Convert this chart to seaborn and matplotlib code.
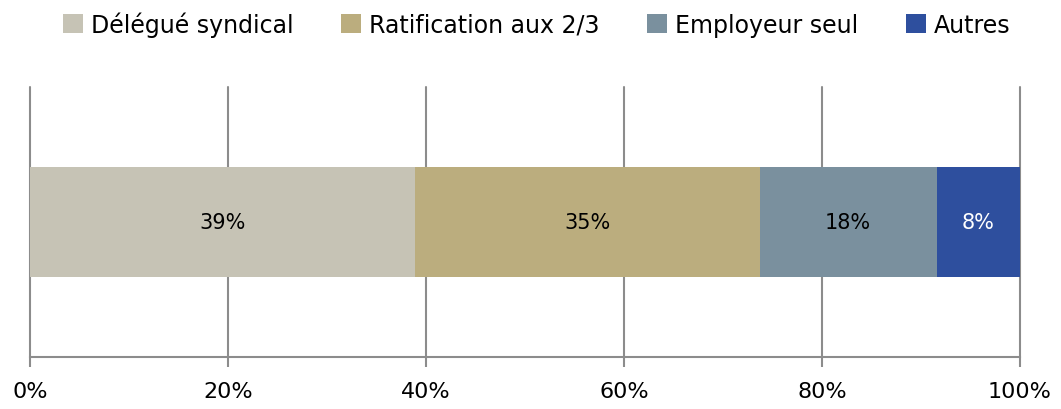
import numpy as np
import pandas as pd
import matplotlib
matplotlib.use("Agg")
import matplotlib.pyplot as plt
import seaborn as sns
from matplotlib.patches import Patch

# donnees
categories = ["Délégué syndical", "Ratification aux 2/3", "Employeur seul", "Autres"]
shares = [38.9, 34.8, 17.9, 8.4]
labels = ["39%", "35%", "18%", "8%"]
colors = ["#C6C3B5", "#BBAD7E", "#7A909E", "#2E4F9E"]
label_colors = ["black", "black", "black", "white"]
tick_values = [0, 20, 40, 60, 80, 100]

sns.set_theme(style="white")
plt.rcParams["font.family"] = ["DejaVu Sans"]

fig = plt.figure(figsize=(10.61, 4.10), dpi=100)
ax = fig.add_axes([0.0283, 0.1268, 0.9330, 0.6585])

cum = np.cumsum(shares)
starts = cum - np.array(shares)

# empilement : on dessine les cumuls du plus grand au plus petit
for i in range(len(categories) - 1, -1, -1):
    df = pd.DataFrame({"groupe": ["all"], "valeur": [cum[i]]})
    sns.barplot(data=df, x="valeur", y="groupe", orient="h", color=colors[i],
                saturation=1, width=0.404, ax=ax, zorder=3, linewidth=0)

for i, lab in enumerate(labels):
    ax.text(starts[i] + shares[i] / 2, 0, lab, ha="center", va="center",
            fontsize=15, color=label_colors[i], zorder=4)

ax.set_xlim(0, 100)
ax.set_ylim(0.5, -0.5)
ax.set_xticks(tick_values)
ax.set_xticklabels([f"{v}%" for v in tick_values], fontsize=16)
ax.set_yticks([])
ax.set_xlabel("")
ax.set_ylabel("")

ax.grid(axis="x", color="#8C8C8C", linewidth=1.5, zorder=0)
for gl in ax.get_xgridlines():
    gl.set_clip_on(False)
ax.set_axisbelow(True)
for side in ["top", "right", "left"]:
    ax.spines[side].set_visible(False)
ax.spines["bottom"].set_color("#8C8C8C")
ax.spines["bottom"].set_linewidth(1.5)
ax.tick_params(axis="x", bottom=True, length=7, width=1.5, color="#8C8C8C",
               pad=10, labelcolor="black")

handles = [Patch(facecolor=c, edgecolor="none") for c in colors]
fig.legend(handles, categories, loc="upper center", bbox_to_anchor=(0.506, 1.01),
           ncol=4, frameon=False, fontsize=17, handlelength=0.85, handleheight=0.85,
           handletextpad=0.35, columnspacing=2.0, borderaxespad=0.3, labelcolor="black")

fig.savefig("out.png", dpi=100)
